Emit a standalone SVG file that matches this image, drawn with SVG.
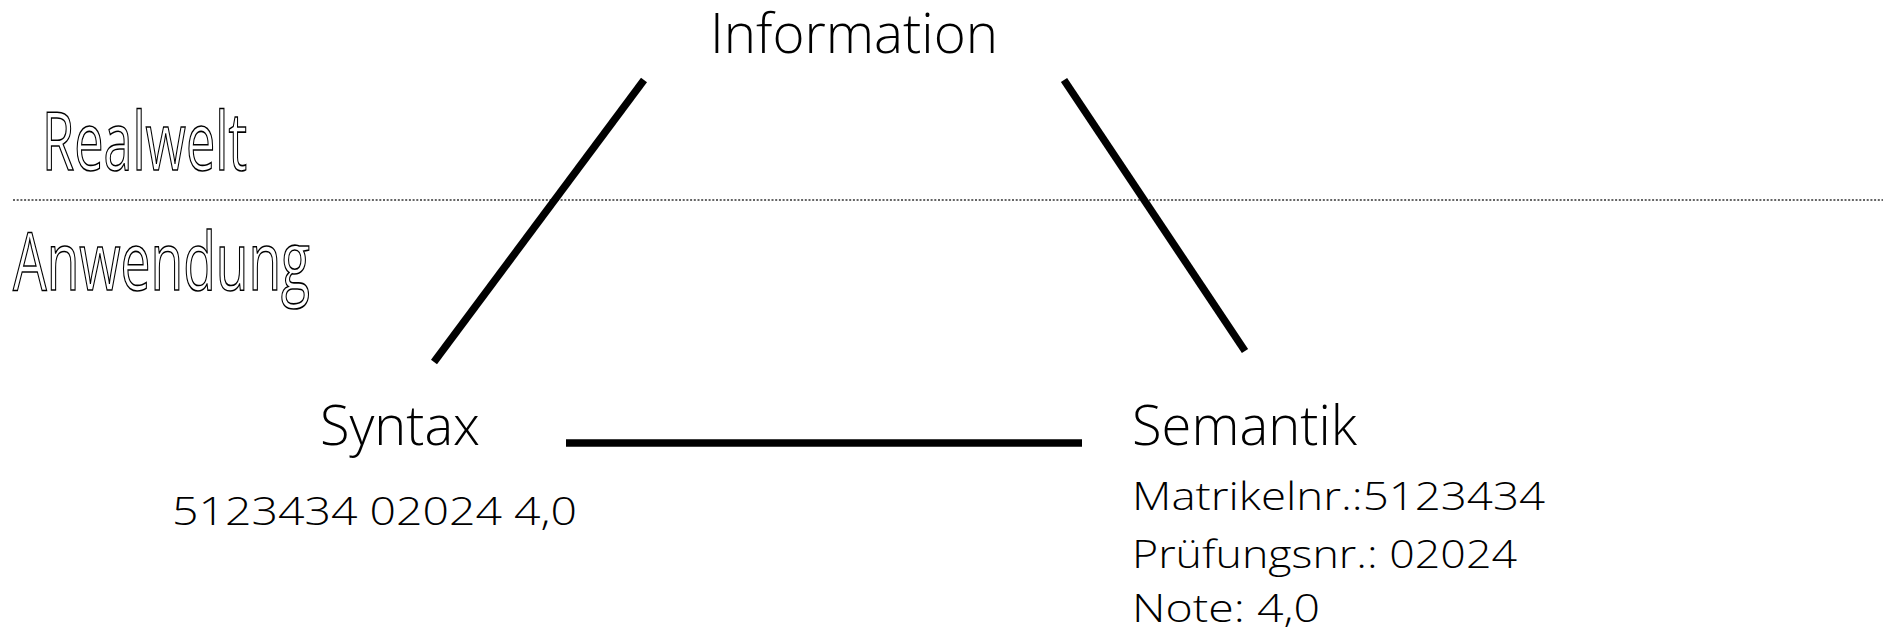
<svg xmlns="http://www.w3.org/2000/svg" width="1883" height="631" viewBox="0 0 1883 631">
<style>
.t{font-family:"Open Sans","Noto Sans","Liberation Sans",sans-serif;font-weight:300;fill:#000}
.big{font-size:56px}
.small{font-size:39px}
.outline{font-family:"Open Sans","Noto Sans","Liberation Sans",sans-serif;font-weight:400;font-size:80px;fill:#fff;stroke:#000;stroke-width:1.6px}
.conn{stroke:#000;stroke-width:7.5;fill:none}
</style>
<rect width="1883" height="631" fill="#fff"/>
<g id="layers">
<line x1="13" y1="200" x2="1883" y2="200" stroke="#333" stroke-width="1.6" stroke-dasharray="2 1.7"/>
<text class="outline" x="42" y="170" textLength="205" lengthAdjust="spacingAndGlyphs">Realwelt</text>
<text class="outline" x="13" y="290" textLength="297" lengthAdjust="spacingAndGlyphs">Anwendung</text>
</g>
<g id="connectors">
<line class="conn" x1="644" y1="80" x2="434" y2="362"/>
<line class="conn" x1="1064" y1="80" x2="1245" y2="351"/>
<line class="conn" x1="566" y1="443" x2="1082" y2="443"/>
</g>
<g id="information">
<text class="t big" x="710" y="53" textLength="288" lengthAdjust="spacingAndGlyphs">Information</text>
</g>
<g id="syntax">
<text class="t big" x="320" y="445" textLength="160" lengthAdjust="spacingAndGlyphs">Syntax</text>
<text class="t small" x="172" y="525" textLength="405" lengthAdjust="spacingAndGlyphs">5123434 02024 4,0</text>
</g>
<g id="semantik">
<text class="t big" x="1132" y="445" textLength="225" lengthAdjust="spacingAndGlyphs">Semantik</text>
<text class="t small" x="1132" y="510" textLength="413" lengthAdjust="spacingAndGlyphs">Matrikelnr.:5123434</text>
<text class="t small" x="1132" y="568" textLength="385" lengthAdjust="spacingAndGlyphs">Prüfungsnr.: 02024</text>
<text class="t small" x="1132" y="622" textLength="188" lengthAdjust="spacingAndGlyphs">Note: 4,0</text>
</g>
</svg>
